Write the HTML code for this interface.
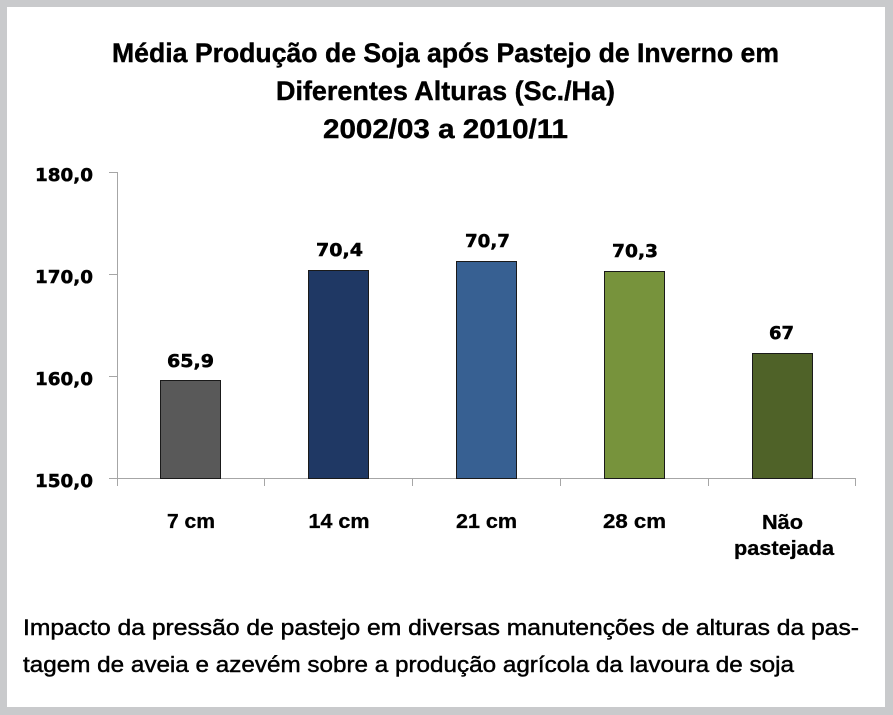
<!DOCTYPE html>
<html>
<head>
<meta charset="utf-8">
<style>
  html,body{margin:0;padding:0;background:#c9cacc;}
  svg{display:block;}
</style>
</head>
<body>
<svg width="893" height="715" viewBox="0 0 893 715" xmlns="http://www.w3.org/2000/svg">
  <rect x="0" y="0" width="893" height="715" fill="#c9cacc"/>
  <rect x="7" y="7" width="878" height="700" fill="#ffffff"/>

  <!-- Title -->
  <g font-family="Liberation Sans, sans-serif" font-weight="bold" font-size="27" fill="#000" stroke="#000" stroke-width="0.4" text-anchor="middle">
    <text x="445.5" y="62" textLength="667" lengthAdjust="spacingAndGlyphs">Média Produção de Soja após Pastejo de Inverno em</text>
    <text x="445.5" y="100" textLength="339" lengthAdjust="spacingAndGlyphs">Diferentes Alturas (Sc./Ha)</text>
    <text x="445.5" y="138" textLength="245" lengthAdjust="spacingAndGlyphs">2002/03 a 2010/11</text>
  </g>

  <!-- Axes -->
  <g stroke="#a6a6a6" stroke-width="1" fill="none">
    <line x1="117.5" y1="172" x2="117.5" y2="478"/>
    <line x1="117" y1="478.5" x2="856" y2="478.5"/>
    <line x1="109" y1="172.5" x2="117" y2="172.5"/>
    <line x1="109" y1="274.5" x2="117" y2="274.5"/>
    <line x1="109" y1="376.5" x2="117" y2="376.5"/>
    <line x1="109" y1="478.5" x2="117" y2="478.5"/>
    <line x1="117.5" y1="478" x2="117.5" y2="486"/>
    <line x1="264.5" y1="478" x2="264.5" y2="486"/>
    <line x1="412.5" y1="478" x2="412.5" y2="486"/>
    <line x1="560.5" y1="478" x2="560.5" y2="486"/>
    <line x1="708.5" y1="478" x2="708.5" y2="486"/>
    <line x1="855.5" y1="478" x2="855.5" y2="486"/>
  </g>

  <!-- Y labels -->
  <g font-family="DejaVu Sans, Liberation Sans, sans-serif" font-weight="bold" font-size="18" fill="#000" stroke="#000" stroke-width="0.5" text-anchor="end">
    <text x="93" y="181" textLength="58" lengthAdjust="spacingAndGlyphs">180,0</text>
    <text x="93" y="283" textLength="58" lengthAdjust="spacingAndGlyphs">170,0</text>
    <text x="93" y="385" textLength="58" lengthAdjust="spacingAndGlyphs">160,0</text>
    <text x="93" y="487" textLength="58" lengthAdjust="spacingAndGlyphs">150,0</text>
  </g>

  <!-- Bars -->
  <g stroke="#1a1a1a" stroke-width="1">
    <rect x="160.5" y="380.5" width="60" height="98" fill="#595959"/>
    <rect x="308.5" y="270.5" width="60" height="208" fill="#1f3864"/>
    <rect x="456.5" y="261.5" width="60" height="217" fill="#376092"/>
    <rect x="604.5" y="271.5" width="60" height="207" fill="#77933c"/>
    <rect x="752.5" y="353.5" width="60" height="125" fill="#4f6228"/>
  </g>

  <!-- Data labels -->
  <g font-family="DejaVu Sans, Liberation Sans, sans-serif" font-weight="bold" font-size="18" fill="#000" stroke="#000" stroke-width="0.5" text-anchor="middle">
    <text x="190.5" y="367" textLength="47" lengthAdjust="spacingAndGlyphs">65,9</text>
    <text x="339.5" y="256" textLength="47" lengthAdjust="spacingAndGlyphs">70,4</text>
    <text x="487.5" y="247" textLength="45" lengthAdjust="spacingAndGlyphs">70,7</text>
    <text x="635" y="257" textLength="46" lengthAdjust="spacingAndGlyphs">70,3</text>
    <text x="781.5" y="339" textLength="25" lengthAdjust="spacingAndGlyphs">67</text>
  </g>

  <!-- Category labels -->
  <g font-family="Liberation Sans, sans-serif" font-weight="bold" font-size="20" fill="#000" stroke="#000" stroke-width="0.3" text-anchor="middle">
    <text x="191" y="528" textLength="48" lengthAdjust="spacingAndGlyphs">7 cm</text>
    <text x="339" y="528" textLength="61" lengthAdjust="spacingAndGlyphs">14 cm</text>
    <text x="486.5" y="528" textLength="61" lengthAdjust="spacingAndGlyphs">21 cm</text>
    <text x="634.5" y="528" textLength="63" lengthAdjust="spacingAndGlyphs">28 cm</text>
    <text x="782.5" y="529" textLength="41" lengthAdjust="spacingAndGlyphs">Não</text>
    <text x="784" y="555" textLength="100" lengthAdjust="spacingAndGlyphs">pastejada</text>
  </g>

  <!-- Caption -->
  <g font-family="Liberation Sans, sans-serif" font-size="22" fill="#000" stroke="#000" stroke-width="0.45">
    <text x="23" y="635" textLength="836" lengthAdjust="spacingAndGlyphs">Impacto da pressão de pastejo em diversas manutenções de alturas da pas-</text>
    <text x="23" y="672" textLength="771" lengthAdjust="spacingAndGlyphs">tagem de aveia e azevém sobre a produção agrícola da lavoura de soja</text>
  </g>
</svg>
</body>
</html>
